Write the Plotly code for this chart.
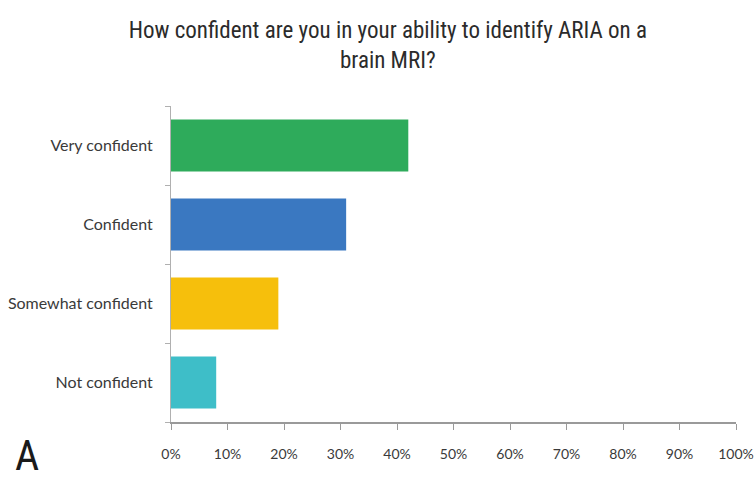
import plotly.graph_objects as go

# Survey responses (percent of respondents)
categories = ["Not confident", "Somewhat confident", "Confident", "Very confident"]
percents = [8, 19, 31, 42]
bar_colors = ["#3ebec8", "#f6bf0c", "#3a78c1", "#2eab5b"]
x_ticks = [0, 10, 20, 30, 40, 50, 60, 70, 80, 90, 100]

narrow_font = "Liberation Sans Narrow, Roboto Condensed, Arial, sans-serif"
label_font = "Lato, Open Sans, sans-serif"

fig = go.Figure(
    go.Bar(
        x=percents,
        y=categories,
        orientation="h",
        marker=dict(color=bar_colors, line=dict(width=0)),
        hoverinfo="x+y",
    )
)

fig.update_layout(
    width=756,
    height=484,
    paper_bgcolor="white",
    plot_bgcolor="white",
    margin=dict(l=171, r=20, t=106, b=62, autoexpand=False),
    bargap=0.34,
    showlegend=False,
    title=dict(
        text="How confident are you in your ability to identify ARIA on a<br>brain MRI?",
        x=0.513,
        xanchor="center",
        y=0.921,
        yanchor="middle",
        font=dict(family=narrow_font, size=23, color="#2b2b2b"),
    ),
    font=dict(family=label_font, color="#3a3a3a"),
)

fig.update_xaxes(
    range=[0, 100],
    tickvals=x_ticks,
    ticktext=[f"{v}%" for v in x_ticks],
    showgrid=False,
    zeroline=False,
    showline=True,
    linecolor="#9a9a9a",
    linewidth=1.5,
    ticks="outside",
    ticklen=6,
    tickcolor="#9a9a9a",
    tickfont=dict(family=label_font, size=14, color="#3a3a3a"),
    ticklabelstandoff=12,
    automargin=False,
    fixedrange=True,
)

fig.update_yaxes(
    showgrid=False,
    showline=True,
    linecolor="#b0b0b0",
    linewidth=1,
    ticks="outside",
    tickson="boundaries",
    ticklen=5,
    tickcolor="#b0b0b0",
    tickfont=dict(family=label_font, size=16, color="#3a3a3a"),
    ticklabelstandoff=14,
    automargin=False,
    fixedrange=True,
)

# Panel letter
fig.add_annotation(
    text="A",
    xref="paper",
    yref="paper",
    x=(13 - 171) / 565,
    y=(422 - 456) / 316,
    xanchor="left",
    yanchor="middle",
    showarrow=False,
    font=dict(family=narrow_font, size=42, color="#1a1a1a"),
)

fig.write_html("out.html")
